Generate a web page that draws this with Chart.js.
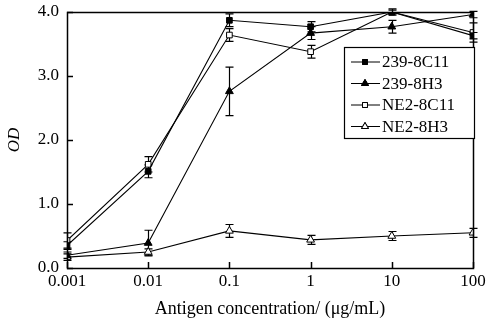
<!DOCTYPE html>
<html>
<head>
<meta charset="utf-8">
<script src="https://cdn.jsdelivr.net/npm/chart.js@4"></script>
<style>
  html, body { margin: 0; padding: 0; background: #fff; }
  #wrap { width: 486px; height: 324px; }
</style>
</head>
<body>
<div id="wrap"><canvas id="chart" width="486" height="324"></canvas></div>
<script>
'use strict';

// ******* DATA *******
let concLabels = ['0.001', '0.01', '0.1', '1', '10', '100'];
let concLog = [-3, -2, -1, 0, 1, 2];
let yTicks = [0, 1, 2, 3, 4];

let names = ['239-8C11', '239-8H3', 'NE2-8C11', 'NE2-8H3'];
let od239C11 = [0.35, 1.51, 3.87, 3.77, 4.0, 3.63];
let od239H3 = [0.2, 0.39, 2.76, 3.67, 3.77, 3.96];
let odNE2C11 = [0.43, 1.62, 3.64, 3.38, 4.0, 3.68];
let odNE2H3 = [0.17, 0.25, 0.58, 0.44, 0.5, 0.55];

let err239C11 = [0.06, 0.1, 0.1, 0.08, 0.05, 0.05];
let err239H3 = [0.05, 0.2, 0.38, 0.1, 0.1, 0.05];
let errNE2C11 = [0.12, 0.12, 0.1, 0.1, 0.03, 0.15];
let errNE2H3 = [0.05, 0.05, 0.1, 0.07, 0.07, 0.07];

let FONT = '"Liberation Serif", "DejaVu Serif", serif';

function toPoints(vals) {
  let pts = [];
  for (let i = 0; i < vals.length; i++) {
    pts.push({ x: concLog[i], y: vals[i] });
  }
  return pts;
}

let styles = [
  { shape: 'rect', fill: '#000', vals: od239C11, errs: err239C11, r: 4 },
  { shape: 'triangle', fill: '#000', vals: od239H3, errs: err239H3, r: 4.5 },
  { shape: 'rect', fill: '#fff', vals: odNE2C11, errs: errNE2C11, r: 4 },
  { shape: 'triangle', fill: '#fff', vals: odNE2H3, errs: errNE2H3, r: 4.5 }
];

let datasets = [];
for (let i = 0; i < names.length; i++) {
  datasets.push({
    label: names[i],
    data: toPoints(styles[i].vals),
    errs: styles[i].errs,
    borderColor: '#000',
    borderWidth: 1.1,
    backgroundColor: styles[i].fill,
    pointStyle: styles[i].shape,
    pointRadius: styles[i].r,
    pointBorderWidth: 1,
    pointBorderColor: '#000',
    pointBackgroundColor: styles[i].fill,
    tension: 0
  });
}

// ***** PLUGIN: frame, inward ticks, error bars, legend *****
let decorPlugin = {
  id: 'decor',
  beforeDatasetsDraw(chart) {
    let ctx = chart.ctx;
    let xs = chart.scales.x;
    let ys = chart.scales.y;
    ctx.save();
    ctx.strokeStyle = '#000';
    ctx.lineWidth = 1.2;
    chart.data.datasets.forEach(function (ds) {
      ds.data.forEach(function (p, j) {
        let px = Math.round(xs.getPixelForValue(p.x)) + 0.5;
        let top = ys.getPixelForValue(p.y + ds.errs[j]);
        let bot = ys.getPixelForValue(p.y - ds.errs[j]);
        ctx.beginPath();
        ctx.moveTo(px, top); ctx.lineTo(px, bot);
        ctx.moveTo(px - 4, top); ctx.lineTo(px + 4, top);
        ctx.moveTo(px - 4, bot); ctx.lineTo(px + 4, bot);
        ctx.stroke();
      });
    });
    ctx.restore();
  },
  afterDraw(chart) {
    let ctx = chart.ctx;
    let a = chart.chartArea;
    let xs = chart.scales.x;
    let ys = chart.scales.y;
    ctx.save();
    ctx.strokeStyle = '#000';
    ctx.lineWidth = 1.5;
    ctx.strokeRect(Math.round(a.left) + 0.5, Math.round(a.top) + 0.5,
      Math.round(a.right - a.left), Math.round(a.bottom - a.top));
    ctx.beginPath();
    yTicks.forEach(function (v) {
      let py = Math.round(ys.getPixelForValue(v)) + 0.5;
      ctx.moveTo(a.left, py); ctx.lineTo(a.left + 6, py);
    });
    concLog.forEach(function (v) {
      let px = Math.round(xs.getPixelForValue(v)) + 0.5;
      ctx.moveTo(px, a.bottom); ctx.lineTo(px, a.bottom - 6);
    });
    ctx.stroke();

    // legend
    let lx = 344, ly = 47, lw = 130, lh = 91;
    ctx.fillStyle = '#fff';
    ctx.fillRect(lx, ly, lw, lh);
    ctx.lineWidth = 1.2;
    ctx.strokeRect(lx + 0.5, ly + 0.5, lw, lh);
    ctx.font = '17px ' + FONT;
    ctx.textBaseline = 'middle';
    chart.data.datasets.forEach(function (ds, i) {
      let y = ly + 15 + i * 21.5;
      ctx.strokeStyle = '#000';
      ctx.lineWidth = 1;
      ctx.beginPath();
      ctx.moveTo(lx + 7, y); ctx.lineTo(lx + 36, y);
      ctx.stroke();
      Chart.helpers.drawPoint(ctx, {
        pointStyle: ds.pointStyle,
        radius: ds.pointRadius - 0.5,
        borderWidth: 1
      }, lx + 21, y);
      ctx.fillStyle = ds.backgroundColor;
      ctx.strokeStyle = '#000';
      ctx.fill();
      ctx.stroke();
      ctx.fillStyle = '#000';
      ctx.fillText(ds.label, lx + 38, y + 1);
    });
    ctx.restore();
  }
};

let chartObj = {
  type: 'line',
  data: { datasets: datasets },
  options: {
    responsive: false,
    animation: false,
    events: [],
    layout: { padding: { left: 4, right: 13, top: 12, bottom: 4 } },
    plugins: {
      legend: { display: false },
      tooltip: { enabled: false }
    },
    scales: {
      x: {
        type: 'linear',
        min: -3,
        max: 2,
        afterBuildTicks: function (scale) {
          scale.ticks = concLog.map(function (v) { return { value: v }; });
        },
        afterFit: function (scale) {
          scale.height = 52;
          scale.paddingLeft = 0;
          scale.paddingRight = 0;
        },
        grid: { display: false, drawTicks: false },
        border: { display: false },
        ticks: {
          color: '#000',
          padding: 3,
          maxRotation: 0,
          autoSkip: false,
          font: { family: FONT, size: 17 },
          callback: function (v) {
            return concLabels[concLog.indexOf(v)];
          }
        },
        title: {
          display: true,
          text: 'Antigen concentration/ (μg/mL)',
          color: '#000',
          padding: { top: 3, bottom: 0 },
          font: { family: FONT, size: 18 }
        }
      },
      y: {
        min: 0,
        max: 4,
        afterBuildTicks: function (scale) {
          scale.ticks = yTicks.map(function (v) { return { value: v }; });
        },
        afterFit: function (scale) {
          scale.width = 63;
          scale.paddingTop = 0;
          scale.paddingBottom = 0;
        },
        grid: { display: false, drawTicks: false },
        border: { display: false },
        ticks: {
          color: '#000',
          padding: 8,
          font: { family: FONT, size: 17 },
          callback: function (v) { return v.toFixed(1); }
        },
        title: {
          display: true,
          text: 'OD',
          color: '#000',
          padding: { top: 0, bottom: 2 },
          font: { family: FONT, size: 17, style: 'italic' }
        }
      }
    }
  },
  plugins: [decorPlugin]
};

new Chart(document.getElementById('chart'), chartObj);
</script>
</body>
</html>
